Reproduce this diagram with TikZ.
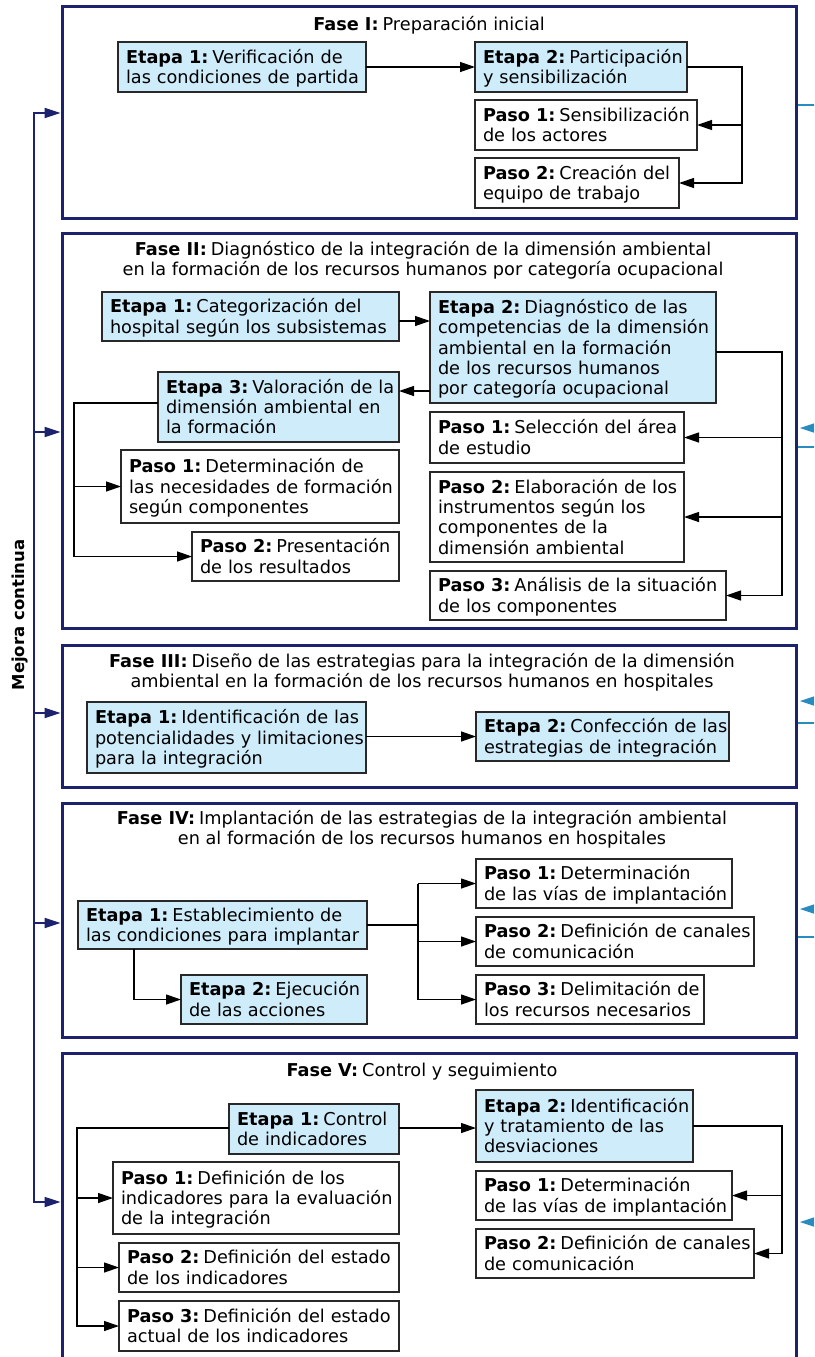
\documentclass[tikz,border=0pt]{standalone}
\usepackage{fontspec}
\setmainfont{DejaVu Sans}
\usetikzlibrary{arrows.meta}
\definecolor{navy}{RGB}{28,34,110}
\definecolor{boxblue}{RGB}{206,236,250}
\definecolor{tealc}{RGB}{40,140,190}
\definecolor{edge}{RGB}{40,40,40}
\newcommand\bx[1]{\noindent\raisebox{-2.5pt}[\height][\depth]{\begin{tabular}{@{}l@{}}#1\end{tabular}}}
\newcommand\lbl[1]{\textbf{#1}\hspace{4pt}\ignorespaces}
\tikzset{
  base/.style={draw=edge, line width=1.3pt, anchor=north west, inner xsep=8pt, inner ysep=0pt, outer sep=0pt, align=left,
    font=\fontsize{17.7}{20.3}\selectfont},
  etapa/.style={base, fill=boxblue},
  paso/.style={base, fill=white},
  frame/.style={draw=navy, line width=3pt, anchor=north west, inner sep=0pt, outer sep=0pt},
  title/.style={align=center, font=\fontsize{17.7}{20}\selectfont, inner sep=0pt},
  conn/.style={draw=black, line width=1.3pt, -{Triangle[length=15pt,width=10pt]}},
  plain/.style={draw=black, line width=1.3pt},
  loopa/.style={draw=navy, line width=1.8pt},
  tip/.style={-{Triangle[length=16pt,width=10pt]}, shorten >=1.5pt},
}
\begin{document}
\begin{tikzpicture}[x=1pt,y=-1pt]
\useasboundingbox (0,0) rectangle (814,1357);
\clip (0,0) rectangle (814,1357);
\fill[white] (0,0) rectangle (814,1357);

% ---------- frames ----------
\node[frame, minimum width=734pt, minimum height=212pt] (F1) at (62,6) {};
\node[frame, minimum width=734pt, minimum height=395pt] (F2) at (62,233) {};
\node[frame, minimum width=734pt, minimum height=142pt] (F3) at (62,645) {};
\node[frame, minimum width=734pt, minimum height=234pt] (F4) at (62,803) {};
\node[frame, minimum width=734pt, minimum height=320pt] (F5) at (62,1053) {};

% ---------- titles ----------
\node[title] (T1) at (429,25) {\lbl{Fase I:} Preparación inicial};
\node[title] (T2) at (423,260.5) {\lbl{Fase II:} Diagnóstico de la integración de la dimensión ambiental\\en la formación de los recursos humanos por categoría ocupacional};
\node[title] (T3) at (422,672) {\lbl{Fase III:} Diseño de las estrategias para la integración de la dimensión\\ambiental en la formación de los recursos humanos en hospitales};
\node[title] (T4) at (422,829) {\lbl{Fase IV:} Implantación de las estrategias de la integración ambiental\\en al formación de los recursos humanos en hospitales};
\node[title] (T5) at (422,1072) {\lbl{Fase V:} Control y seguimiento};

% ---------- Fase I ----------
\node[etapa, text width=232pt, minimum height=50pt] (f1e1) at (118,42) {\bx{\lbl{Etapa 1:} Verificación de\\las condiciones de partida}};
\node[etapa, text width=196pt, minimum height=50pt] (f1e2) at (475,42) {\bx{\lbl{Etapa 2:} Participación\\y sensibilización}};
\node[paso, text width=206pt, minimum height=50pt] (f1p1) at (475,100) {\bx{\lbl{Paso 1:} Sensibilización\\de los actores}};
\node[paso, text width=188pt, minimum height=50pt] (f1p2) at (475,158) {\bx{\lbl{Paso 2:} Creación del\\equipo de trabajo}};
\draw[conn] (f1e1.east) -- (f1e2.west);
\coordinate (t1) at (742,0);
\draw[conn] (f1e2.east) -- (t1 |- f1e2.east) |- (f1p2.east);
\draw[conn] (t1 |- f1p1.east) -- (f1p1.east);

% ---------- Fase II ----------
\node[etapa, text width=281pt, minimum height=49pt] (f2e1) at (102,292) {\bx{\lbl{Etapa 1:} Categorización del\\hospital según los subsistemas}};
\node[etapa, text width=270pt, minimum height=111pt] (f2e2) at (430,292) {\bx{\lbl{Etapa 2:} Diagnóstico de las\\competencias de la dimensión\\ambiental en la formación\\de los recursos humanos\\por categoría ocupacional}};
\node[etapa, text width=225pt, minimum height=70pt] (f2e3) at (158,372) {\bx{\lbl{Etapa 3:} Valoración de la\\dimensión ambiental en\\la formación}};
\node[paso, text width=262pt, minimum height=73pt] (f2p1) at (121,450) {\bx{\lbl{Paso 1:} Determinación de\\las necesidades de formación\\según componentes}};
\node[paso, text width=191pt, minimum height=49pt] (f2p2) at (192,532) {\bx{\lbl{Paso 2:} Presentación\\de los resultados}};
\node[paso, text width=238pt, minimum height=51pt] (f2q1) at (430,412) {\bx{\lbl{Paso 1:} Selección del área\\de estudio}};
\node[paso, text width=238pt, minimum height=90pt] (f2q2) at (430,472) {\bx{\lbl{Paso 2:} Elaboración de los\\instrumentos según los\\componentes de la\\dimensión ambiental}};
\node[paso, text width=280pt, minimum height=49pt] (f2q3) at (430,571) {\bx{\lbl{Paso 3:} Análisis de la situación\\de los componentes}};
\coordinate (y321) at (0,321);
\coordinate (y391) at (0,391);
\coordinate (y403) at (0,403);
\coordinate (y352) at (0,352);
\draw[conn] (f2e1.east |- y321) -- (f2e2.west |- y321);
\draw[conn] (f2e2.west |- y391) -- (f2e3.east |- y391);
\coordinate (t2a) at (74,0);
\draw[conn] (f2e3.west |- y403) -- (t2a |- y403) |- (f2p2.west);
\draw[conn] (t2a |- f2p1.west) -- (f2p1.west);
\coordinate (t2b) at (782,0);
\draw[conn] (f2e2.east |- y352) -- (t2b |- y352) |- (f2q3.east);
\draw[conn] (t2b |- f2q1.east) -- (f2q1.east);
\draw[conn] (t2b |- f2q2.east) -- (f2q2.east);

% ---------- Fase III ----------
\node[etapa, text width=263pt, minimum height=71pt] (f3e1) at (87,702) {\bx{\lbl{Etapa 1:} Identificación de las\\potencialidades y limitaciones\\para la integración}};
\node[etapa, text width=237pt, minimum height=49pt] (f3e2) at (476,712) {\bx{\lbl{Etapa 2:} Confección de las\\estrategias de integración}};
\draw[conn] (f3e1.east |- f3e2.west) -- (f3e2.west);

% ---------- Fase IV ----------
\node[etapa, text width=273pt, minimum height=48pt] (f4e1) at (78,901) {\bx{\lbl{Etapa 1:} Establecimiento de\\las condiciones para implantar}};
\node[etapa, text width=170pt, minimum height=49pt] (f4e2) at (181,975) {\bx{\lbl{Etapa 2:} Ejecución\\de las acciones}};
\node[paso, text width=240pt, minimum height=49pt] (f4p1) at (476,859) {\bx{\lbl{Paso 1:} Determinación\\de las vías de implantación}};
\node[paso, text width=262pt, minimum height=49pt] (f4p2) at (476,917) {\bx{\lbl{Paso 2:} Definición de canales\\de comunicación}};
\node[paso, text width=212pt, minimum height=49pt] (f4p3) at (476,975) {\bx{\lbl{Paso 3:} Delimitación de\\los recursos necesarios}};
\coordinate (t4) at (418,0);
\coordinate (x134) at (134,0);
\draw[plain] (f4e1.east) -- (t4 |- f4e1.east);
\draw[conn] (t4 |- f4p1.west) -- (f4p1.west);
\draw[conn] (t4 |- f4p2.west) -- (f4p2.west);
\draw[conn] (t4 |- f4p1.west) -- (t4 |- f4p3.west) -- (f4p3.west);
\draw[conn] (x134 |- f4e1.south) |- (f4e2.west);

% ---------- Fase V ----------
\node[etapa, text width=154pt, minimum height=50pt] (f5e1) at (229,1104) {\bx{\lbl{Etapa 1:} Control\\de indicadores}};
\node[etapa, text width=201pt, minimum height=72pt] (f5e2) at (476,1090) {\bx{\lbl{Etapa 2:} Identificación\\y tratamiento de las\\desviaciones}};
\node[paso, text width=270pt, minimum height=72pt] (f5p1) at (113,1162) {\bx{\lbl{Paso 1:} Definición de los\\indicadores para la evaluación\\de la integración}};
\node[paso, text width=264pt, minimum height=49pt] (f5p2) at (119,1243) {\bx{\lbl{Paso 2:} Definición del estado\\de los indicadores}};
\node[paso, text width=264pt, minimum height=50pt] (f5p3) at (119,1301) {\bx{\lbl{Paso 3:} Definición del estado\\actual de los indicadores}};
\node[paso, text width=240pt, minimum height=49pt] (f5q1) at (476,1171) {\bx{\lbl{Paso 1:} Determinación\\de las vías de implantación}};
\node[paso, text width=262pt, minimum height=49pt] (f5q2) at (476,1229) {\bx{\lbl{Paso 2:} Definición de canales\\de comunicación}};
\coordinate (y1128) at (0,1128);
\draw[conn] (f5e1.east |- y1128) -- (f5e2.west |- y1128);
\coordinate (t5a) at (77,0);
\draw[conn] (f5e1.west |- y1128) -- (t5a |- y1128) |- (f5p3.west);
\draw[conn] (t5a |- f5p1.west) -- (f5p1.west);
\draw[conn] (t5a |- f5p2.west) -- (f5p2.west);
\coordinate (t5b) at (782,0);
\draw[conn] (f5e2.east) -- (t5b |- f5e2.east) |- (f5q2.east);
\draw[conn] (t5b |- f5q1.east) -- (f5q1.east);

% ---------- loop (Mejora continua) ----------
\coordinate (L1) at (34,113);
\coordinate (L5) at (34,1202);
\draw[loopa, {Triangle[length=16pt,width=10pt]}-{Triangle[length=16pt,width=10pt]}, shorten <=1.5pt, shorten >=1.5pt]
  (F1.west |- L1) -- (L1) -- (L5) -- (F5.west |- L5);
\coordinate (L2) at (34,432);
\coordinate (L3) at (34,713);
\coordinate (L4) at (34,923);
\draw[loopa, tip] (L2) -- (F2.west |- L2);
\draw[loopa, tip] (L3) -- (F3.west |- L3);
\draw[loopa, tip] (L4) -- (F4.west |- L4);
\node[rotate=90, font=\fontsize{16.5}{20}\selectfont\bfseries, inner sep=0pt] (MC) at (20,615) {Mejora continua};

% ---------- cut-off marks at the right edge ----------
\draw[tealc, line width=1.3pt] (798,105) -- (816,105);
\fill[tealc] (800,428) -- (818,422) -- (818,434) -- cycle;
\draw[tealc, line width=1.3pt] (798,447) -- (816,447);
\fill[tealc] (800,701) -- (818,695) -- (818,707) -- cycle;
\draw[tealc, line width=1.3pt] (798,723) -- (816,723);
\fill[tealc] (800,909) -- (818,903) -- (818,915) -- cycle;
\draw[tealc, line width=1.3pt] (798,937) -- (816,937);
\fill[tealc] (800,1222) -- (818,1216) -- (818,1228) -- cycle;
\end{tikzpicture}
\end{document}
